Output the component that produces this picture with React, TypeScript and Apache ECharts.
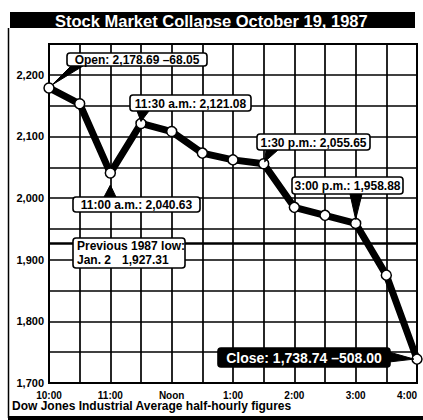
import React, { useEffect, useRef } from "react";
import * as echarts from "echarts";

const times = ["10:00", "10:30", "11:00", "11:30", "Noon", "12:30", "1:00", "1:30", "2:00", "2:30", "3:00", "3:30", "4:00"];
const dowValues = [2178.69, 2153, 2040.63, 2121.08, 2108, 2073, 2062, 2055.65, 1985, 1972, 1958.88, 1875, 1738.74];
const yMin = 1700;
const yMax = 2250;
const yStep = 50;
const previousLow = 1927.31;

const titleText = "Stock Market Collapse October 19, 1987";
const subtitleText = "Dow Jones Industrial Average half-hourly figures";

const FONT = '"Liberation Sans", Arial, Helvetica, sans-serif';

const fmt = (v: number) => {
  const s = String(Math.round(v));
  return s.length > 3 ? s.slice(0, s.length - 3) + "," + s.slice(s.length - 3) : s;
};

type Ann = {
  idx: number;
  text: string;
  box: [number, number, number, number];
  base: [number, number, number];
  tip: [number, number];
  size: number;
  dark?: boolean;
  side?: "right";
};

const annotations: Ann[] = [
  { idx: 0, text: "Open: 2,178.69 \u201368.05", box: [67, 53, 140, 13], base: [4, 16, 13], tip: [3, -3], size: 12 },
  { idx: 3, text: "11:30 a.m.: 2,121.08", box: [130, 95, 121, 16], base: [7, 19, 16], tip: [0, -2], size: 12 },
  { idx: 2, text: "11:00 a.m.: 2,040.63", box: [73, 197, 127, 15], base: [31, 43, 0], tip: [0, 12], size: 12 },
  { idx: 7, text: "1:30 p.m.: 2,055.65", box: [257, 134, 113, 16], base: [9, 21, 16], tip: [1, -2], size: 12 },
  { idx: 10, text: "3:00 p.m.: 1,958.88", box: [292, 177, 111, 17], base: [58, 70, 17], tip: [0, -4], size: 12 },
  { idx: 12, text: "Close: 1,738.74 \u2013508.00", box: [218, 348, 172, 19], base: [0, 0, 0], tip: [-3, 0], size: 14, dark: true, side: "right" },
];

export default function App() {
  const ref = useRef<HTMLDivElement>(null);
  useEffect(() => {
    if (!ref.current) return;
    const chart = echarts.init(ref.current, null, { renderer: "svg" });
    chart.setOption({
      animation: false,
      backgroundColor: "#ffffff",
      grid: {
        left: 49,
        right: 6,
        top: 44,
        bottom: 37,
        show: true,
        borderColor: "#000",
        borderWidth: 2,
        backgroundColor: "transparent",
      },
      xAxis: {
        type: "category",
        data: times,
        boundaryGap: false,
        axisLine: { show: true, lineStyle: { color: "#000", width: 2 } },
        axisTick: { show: false },
        axisLabel: {
          interval: 1,
          color: "#000",
          fontFamily: FONT,
          fontWeight: "bold",
          fontSize: 10,
          margin: 7,
          alignMaxLabel: "right",
        },
        splitLine: { show: true, interval: 0, lineStyle: { color: "#000", width: 1.7 } },
      },
      yAxis: {
        type: "value",
        min: yMin,
        max: yMax,
        interval: yStep,
        axisLine: { show: true, lineStyle: { color: "#000", width: 2 } },
        axisTick: { show: false },
        axisLabel: {
          color: "#000",
          fontFamily: FONT,
          fontWeight: "bold",
          fontSize: 11,
          margin: 5,
          formatter: (v: number) => (v % 100 === 0 && v < yMax ? fmt(v) : ""),
        },
        splitLine: { show: true, lineStyle: { color: "#000", width: 1.7 } },
      },
      series: [
        {
          type: "line",
          data: dowValues,
          z: 5,
          lineStyle: { color: "#000", width: 7 },
          symbol: "circle",
          symbolSize: 10,
          showAllSymbol: true,
          itemStyle: { color: "#fff", borderColor: "#000", borderWidth: 1.5 },
          markLine: {
            silent: true,
            symbol: "none",
            label: { show: false },
            lineStyle: { color: "#000", width: 2.5, type: "solid" },
            data: [{ yAxis: previousLow }],
          },
        },
      ],
    });

    const els: any[] = [];
    els.push({ type: "rect", z: 20, shape: { x: 10, y: 12, width: 405, height: 16 }, style: { fill: "#000" } });
    els.push({
      type: "text", z: 21, x: 55, y: 20.5,
      style: { text: titleText, fill: "#fff", font: `bold 16.5px ${FONT}`, verticalAlign: "middle", align: "left" },
    });
    els.push({ type: "line", z: 20, shape: { x1: 8.5, y1: 28, x2: 8.5, y2: 418 }, style: { stroke: "#000", lineWidth: 1.5 } });
    els.push({ type: "rect", z: 20, shape: { x: 8, y: 416, width: 415, height: 4 }, style: { fill: "#000" } });
    els.push({
      type: "text", z: 21, x: 12, y: 406,
      style: { text: subtitleText, fill: "#000", font: `bold 12px ${FONT}`, verticalAlign: "middle", align: "left" },
    });

    annotations.forEach((a) => {
      const p = chart.convertToPixel({ xAxisIndex: 0, yAxisIndex: 0 }, [a.idx, dowValues[a.idx]]) as number[];
      const [bx, by, bw, bh] = a.box;
      const tip = [p[0] + a.tip[0], p[1] + a.tip[1]];
      let pts: number[][];
      if (a.side === "right") {
        pts = [[bx + bw - 1, by + 4], [bx + bw - 1, by + bh - 5], tip];
      } else {
        pts = [[bx + a.base[0], by + a.base[2]], [bx + a.base[1], by + a.base[2]], tip];
      }
      els.push({ type: "polygon", z: 30, shape: { points: pts }, style: { fill: "#000", stroke: "#000", lineWidth: 1 } });
      els.push({
        type: "rect", z: 31,
        shape: { x: bx, y: by, width: bw, height: bh, r: 3 },
        style: { fill: a.dark ? "#000" : "#fff", stroke: "#000", lineWidth: 1.6 },
      });
      els.push({
        type: "text", z: 32, x: bx + bw / 2, y: by + bh / 2 + 0.5,
        style: {
          text: a.text, fill: a.dark ? "#fff" : "#000",
          font: `bold ${a.size}px ${FONT}`, align: "center", verticalAlign: "middle",
        },
      });
    });

    els.push({
      type: "rect", z: 31, shape: { x: 73, y: 238, width: 112, height: 30, r: 3 },
      style: { fill: "#fff", stroke: "#000", lineWidth: 1.6 },
    });
    els.push({
      type: "text", z: 32, x: 77, y: 246,
      style: { text: "Previous 1987 low:", fill: "#000", font: `bold 12px ${FONT}`, verticalAlign: "middle", align: "left" },
    });
    els.push({
      type: "text", z: 32, x: 77, y: 260,
      style: { text: "Jan. 2", fill: "#000", font: `bold 12px ${FONT}`, verticalAlign: "middle", align: "left" },
    });
    els.push({
      type: "text", z: 32, x: 122, y: 260,
      style: { text: "1,927.31", fill: "#000", font: `bold 12px ${FONT}`, verticalAlign: "middle", align: "left" },
    });

    chart.setOption({ graphic: { elements: els } });

    return () => chart.dispose();
  }, []);
  return <div ref={ref} style={{ position: "absolute", left: 0, top: 0, width: 423, height: 420 }} />;
}
